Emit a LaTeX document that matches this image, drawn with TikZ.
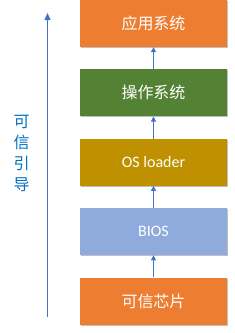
\documentclass[tikz,border=0pt]{standalone}
\usepackage{fontspec}
\setmainfont{Carlito}
\newfontfamily\cjk{Noto Sans CJK SC}
\usepackage{tikz}
\usetikzlibrary{positioning,arrows.meta,shadows}
\definecolor{corange}{HTML}{ED7D31}
\definecolor{cgreen}{HTML}{548235}
\definecolor{cgold}{HTML}{BF9000}
\definecolor{cblue}{HTML}{8FAADC}
\definecolor{carrow}{HTML}{4472C4}
\definecolor{ctext}{HTML}{0070C0}

\begin{document}
\begin{tikzpicture}[
  x=1pt, y=1pt,
  layer/.style={minimum width=147pt, minimum height=47pt, inner sep=0pt, text=white,
    font=\fontsize{16}{18}\selectfont,
    drop shadow={shadow xshift=1pt, shadow yshift=-1pt, opacity=0.25, fill=black}},
  up/.style={-{Triangle[length=5pt,width=5pt]}, carrow, line width=0.9pt},
]
\useasboundingbox (0,0) rectangle (235,-333);
% ---------- 层次 ----------
\node[layer, fill=corange] (chip) at (153.5,-301) {\cjk 可信芯片};
\node[layer, fill=cblue, above=22pt of chip] (bios) {BIOS};
\node[layer, fill=cgold, above=22pt of bios] (loader) {OS loader};
\node[layer, fill=cgreen, above=22pt of loader] (os) {\cjk 操作系统};
\node[layer, fill=corange, above=22pt of os] (app) {\cjk 应用系统};
\draw[up] (chip) -- (bios);
\draw[up] (bios) -- (loader);
\draw[up] (loader) -- (os);
\draw[up] (os) -- (app);

% ---------- 可信引导 ----------
\coordinate (base) at (47.5,-317);
\coordinate (tip) at (47.5,-13);
\draw[carrow, line width=1.2pt, -{Triangle[length=7pt,width=6pt]}] (base) -- (tip);
\node[text=ctext, align=center, font=\cjk\fontsize{16}{21}\selectfont] (boot) at (21.5,-153) {可\\信\\引\\导};
\end{tikzpicture}
\end{document}
